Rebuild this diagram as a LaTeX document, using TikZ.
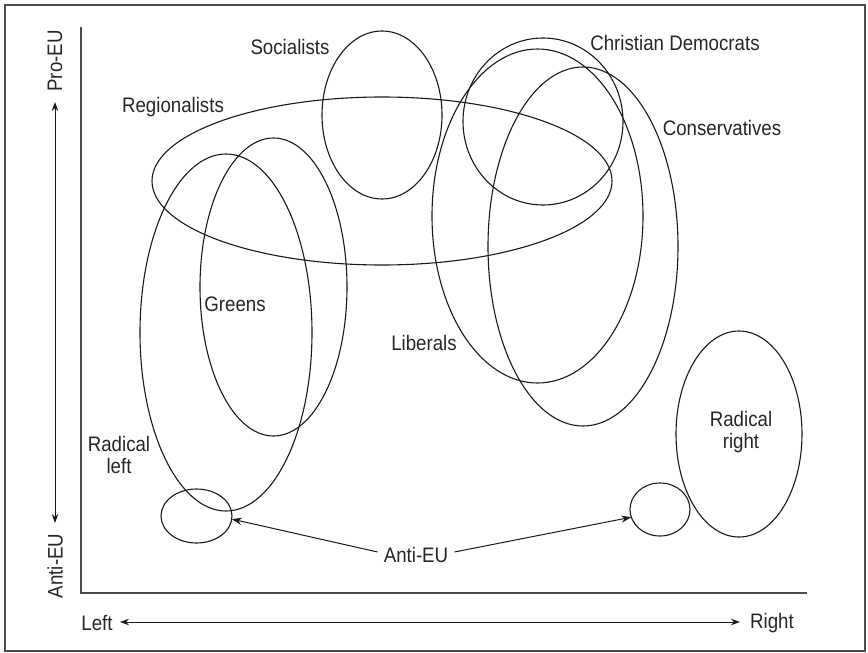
\documentclass[tikz,border=0pt]{standalone}
\usepackage{fontspec}
\setmainfont{Liberation Sans}[FakeStretch=0.89]
\usetikzlibrary{shapes.geometric,arrows.meta}

\begin{document}
\begin{tikzpicture}[x=1pt,y=-1pt,
  party/.style={ellipse, draw=black!90, line width=1.1pt, inner sep=0pt, outer sep=0pt},
  lbl/.style={font=\fontsize{21}{22}\selectfont, text=black!85, inner sep=0pt, align=center},
  axisline/.style={draw=black!70, line width=1.8pt},
  dirarrow/.style={draw=black!90, line width=1pt, {Stealth[length=9pt,width=6.5pt]}-{Stealth[length=9pt,width=6.5pt]}},
  pointer/.style={draw=black!90, line width=1pt, -{Stealth[length=10pt,width=7pt]}}]

\useasboundingbox (0,0) rectangle (868,653);
\draw[draw=black!70, line width=1.8pt] (5,5) rectangle (865,651);

% axes
\coordinate (origin) at (81,593);
\coordinate (ytop) at (81,27);
\coordinate (xend) at (807,593);
\draw[axisline] (ytop) -- (origin) -- (xend);

% direction arrows and their labels
\coordinate (upend) at (55,102);
\coordinate (downend) at (55,523);
\draw[dirarrow] (upend) -- (downend);
\node[lbl, rotate=90] (pro) at (55,61) {Pro-EU};
\node[lbl, rotate=90] (anti) at (55,566) {Anti-EU};

\coordinate (leftend) at (120,622);
\coordinate (rightend) at (740,622);
\draw[dirarrow] (leftend) -- (rightend);
\node[lbl] (lefttxt) at (97,623) {Left};
\node[lbl] (righttxt) at (772,623) {Right};

% party families
\node[party, minimum width=120pt, minimum height=168pt] (soc) at (382,115) {};
\node[party, minimum width=460pt, minimum height=168pt] (reg) at (382,181) {};
\node[party, minimum width=160pt, minimum height=167pt] (cd) at (543,121.5) {};
\node[party, minimum width=211pt, minimum height=334pt] (lib) at (537.5,216) {};
\node[party, minimum width=190pt, minimum height=359pt] (con) at (583,246.5) {};
\node[party, minimum width=172pt, minimum height=357pt] (rl) at (226,332.5) {};
\node[party, minimum width=147pt, minimum height=298pt] (gr) at (273.5,287) {};
\node[party, minimum width=126pt, minimum height=206pt] (rr) at (739,434) {};
\node[party, minimum width=71pt, minimum height=54pt] (lc) at (196.5,516) {};
\node[party, minimum width=60pt, minimum height=53pt] (rc) at (660,509.5) {};

% names
\node[lbl] (socname) at (290,47) {Socialists};
\node[lbl] (regname) at (173,107) {Regionalists};
\node[lbl] (cdname) at (675,43) {Christian Democrats};
\node[lbl] (conname) at (722,128) {Conservatives};
\node[lbl] (grname) at (235,304) {Greens};
\node[lbl] (libname) at (424,343) {Liberals};
\node[lbl] (rlname) at (119,455) {Radical\\left};
\node[lbl] (rrname) at (741,432) {Radical\\right};

% anti-EU pointers
\node[lbl, inner sep=6pt] (antieu) at (416,555) {Anti-EU};
\draw[pointer] ([yshift=3pt]antieu.west) -- (lc.-5);
\draw[pointer] ([yshift=3pt]antieu.east) -- (rc.195);
\end{tikzpicture}
\end{document}
